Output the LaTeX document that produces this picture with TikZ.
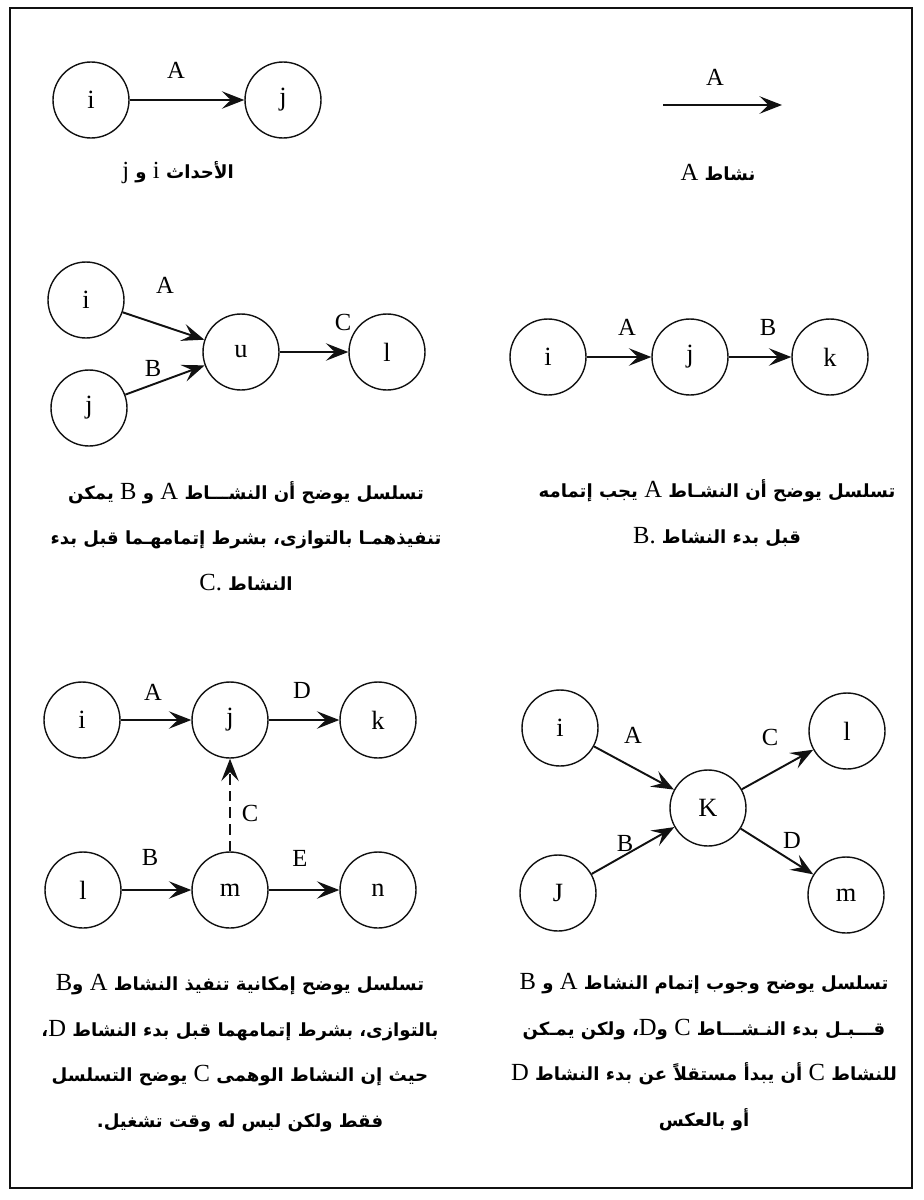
\documentclass[tikz,border=0pt]{standalone}
\usepackage{fontspec}
\setmainfont{Liberation Serif}
\newfontfamily\arabicfont[Script=Arabic]{DejaVu Sans}
\newfontfamily\latinfont{Liberation Serif}
\TeXXeTstate=1
\usetikzlibrary{arrows.meta,positioning}
\definecolor{cInk}{HTML}{111111}
\newcommand{\ar}[1]{{\arabicfont\bfseries\beginR #1\endR}}
\newcommand{\la}[1]{{\latinfont\mdseries\fontsize{14}{26}\selectfont #1}}
\tikzset{
  ev/.style    = {circle, draw=cInk, line width=0.8pt, minimum size=15.2mm,
                  inner sep=0pt, font=\fontsize{15}{15}\selectfont},
  act/.style   = {-{Stealth[length=4.5mm, width=3.5mm, inset=1.8mm]},
                  line width=1.1pt, draw=cInk},
  dummy/.style = {act, dash pattern=on 6pt off 3.5pt},
  lbl/.style   = {font=\fontsize{14}{14}\selectfont, inner sep=0pt},
  capt/.style  = {align=center, inner sep=0pt,
                  font=\fontsize{10.3}{26}\selectfont},
  bframe/.style = {draw=cInk, line width=1pt},
}

\begin{document}
\begin{tikzpicture}[x=0.02cm, y=-0.02cm]
  \useasboundingbox (0,0) rectangle (923,1200);
  \draw[bframe] (10,8) rectangle (912,1188);

  % events and one activity
  \node[ev] (ti) at (91,100) {i};
  \node[ev] (tj) at (283,100) {j};
  \draw[act] (ti) -- (tj);
  \node[lbl] (tlA) at (176,70) {A};
  \node[capt] (tcap) at (178,173) {\ar{الأحداث \la{i} و \la{j}}};

  \coordinate (ta0) at (663,105);
  \coordinate (ta1) at (782,105);
  \draw[act] (ta0) -- (ta1);
  \node[lbl] (talA) at (715,77) {A};
  \node[capt] (tacap) at (718,173) {\ar{نشاط \la{A}}};

  % A and B in parallel, then C
  \node[ev] (pi) at (86,300) {i};
  \node[ev] (pj) at (89,408) {j};
  \node[ev] (pu) at (241,352) {u};
  \node[ev] (pl) at (387,352) {l};
  \draw[act] (pi) -- (pu);
  \draw[act] (pj) -- (pu);
  \draw[act] (pu) -- (pl);
  \node[lbl] (plA) at (165,285) {A};
  \node[lbl] (plB) at (153,368) {B};
  \node[lbl] (plC) at (343,322) {C};
  \node[capt] (pcap) at (246,536)
    {\ar{تسلسل يوضح أن النشـــاط \la{A} و \la{B} يمكن}\\
     \ar{تنفيذهمـا بالتوازى، بشرط إتمامهـما قبل بدء}\\
     \ar{النشاط \la{C.}}};

  % A then B
  \node[ev] (si) at (548,357) {i};
  \node[ev] (sj) at (690,357) {j};
  \node[ev] (sk) at (830,357) {k};
  \draw[act] (si) -- (sj);
  \draw[act] (sj) -- (sk);
  \node[lbl] (slA) at (627,327) {A};
  \node[lbl] (slB) at (768,327) {B};
  \node[capt] (scap) at (717,513)
    {\ar{تسلسل يوضح أن النشـاط \la{A} يجب إتمامه}\\
     \ar{قبل بدء النشاط \la{B.}}};

  % dummy activity C
  \node[ev] (di) at (82,720) {i};
  \node[ev] (dj) at (230,720) {j};
  \node[ev] (dk) at (378,720) {k};
  \node[ev] (dl) at (83,890) {l};
  \node[ev] (dm) at (230,890) {m};
  \node[ev] (dn) at (378,890) {n};
  \draw[act] (di) -- (dj);
  \draw[act] (dj) -- (dk);
  \draw[act] (dl) -- (dm);
  \draw[act] (dm) -- (dn);
  \draw[dummy] (dm) -- (dj);
  \node[lbl] (dlA) at (153,692) {A};
  \node[lbl] (dlD) at (302,690) {D};
  \node[lbl] (dlB) at (150,857) {B};
  \node[lbl] (dlE) at (300,858) {E};
  \node[lbl] (dlC) at (250,813) {C};
  \node[capt] (dcap) at (240,1053)
    {\ar{تسلسل يوضح إمكانية تنفيذ النشاط \la{A} و\la{B}}\\
     \ar{بالتوازى، بشرط إتمامهما قبل بدء النشاط \la{D}،}\\
     \ar{حيث إن النشاط الوهمى \la{C} يوضح التسلسل}\\
     \ar{فقط ولكن ليس له وقت تشغيل.}};

  % A, B before C, D
  \node[ev] (ci) at (560,728) {i};
  \node[ev] (cJ) at (558,893) {J};
  \node[ev] (cK) at (708,808) {K};
  \node[ev] (cl) at (847,731) {l};
  \node[ev] (cm) at (846,895) {m};
  \draw[act] (ci) -- (cK);
  \draw[act] (cJ) -- (cK);
  \draw[act] (cK) -- (cl);
  \draw[act] (cK) -- (cm);
  \node[lbl] (clA) at (633,735) {A};
  \node[lbl] (clC) at (770,737) {C};
  \node[lbl] (clB) at (625,843) {B};
  \node[lbl] (clD) at (792,840) {D};
  \node[capt] (ccap) at (704,1052)
    {\ar{تسلسل يوضح وجوب إتمام النشاط \la{A} و \la{B}}\\
     \ar{قـــبـل بدء النـشـــاط \la{C} و\la{D}، ولكن يمـكن}\\
     \ar{للنشاط \la{C} أن يبدأ مستقلاً عن بدء النشاط \la{D}}\\
     \ar{أو بالعكس}};
\end{tikzpicture}
\end{document}
